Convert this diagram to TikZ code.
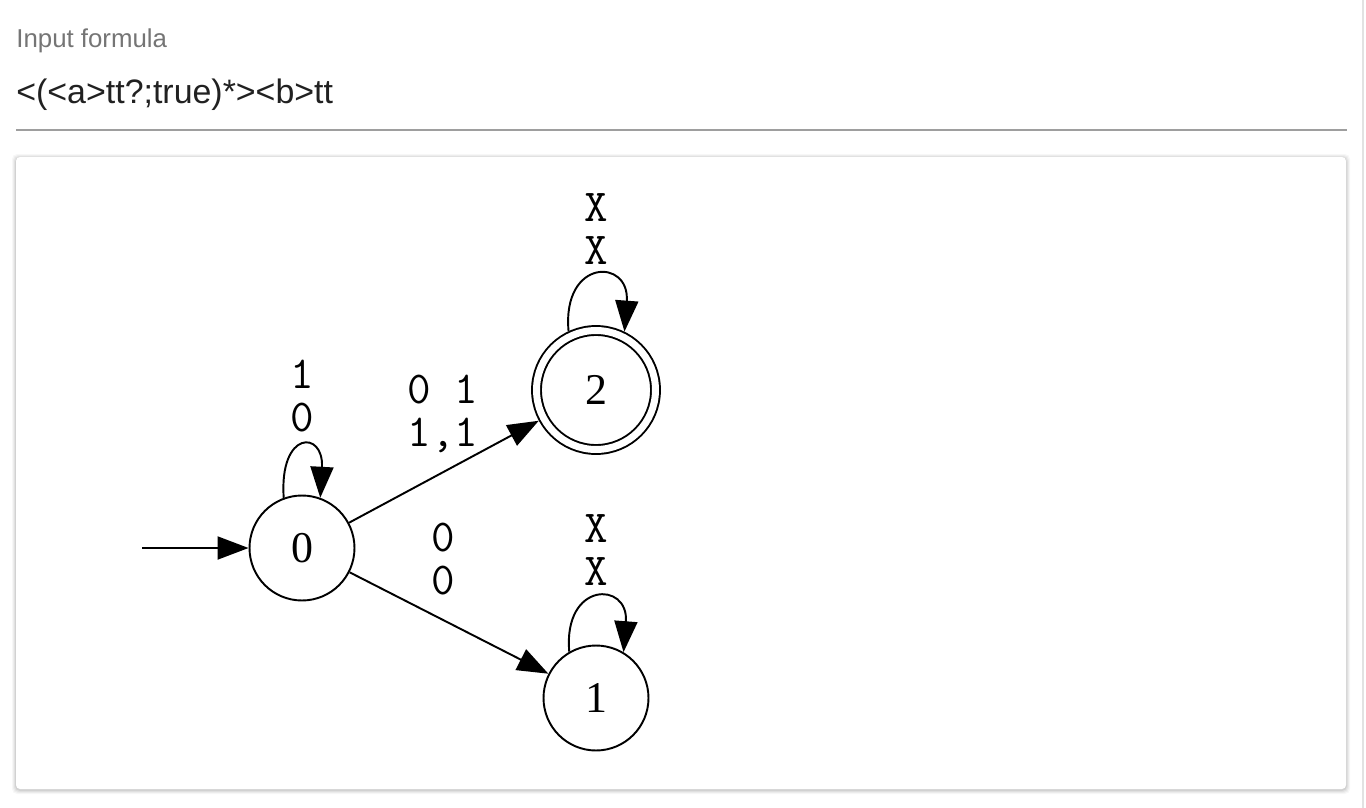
\documentclass[tikz,border=0pt]{standalone}
\usepackage{xcolor}
\usepackage{fontspec}
\setmainfont{Liberation Serif}
\newfontfamily\uifont{Liberation Sans}
\newfontfamily\statefont{Liberation Serif}
\usetikzlibrary{arrows.meta}

\definecolor{hintgray}{HTML}{757575}
\definecolor{inktext}{HTML}{212121}
\definecolor{rulegray}{HTML}{9E9E9E}
\definecolor{framegray}{HTML}{E2E2E2}

\begin{document}
\begin{tikzpicture}[x=0.02cm,y=-0.02cm]
			\tikzstyle{hint} = [anchor=base west, inner sep=0pt, text=hintgray, font=\uifont\fontsize{14.7}{17}\selectfont]
			\tikzstyle{formula} = [anchor=base west, inner sep=0pt, text=inktext, font=\uifont\fontsize{19.3}{22}\selectfont]
			\tikzstyle{st} = [circle, draw, line width=1.1pt, minimum size=2.1cm, inner sep=0pt, font=\statefont\fontsize{25}{28}\selectfont]
			\tikzstyle{acc} = [st, double, double distance=0.14cm, minimum size=2.38cm, outer sep=0.11cm]
			\tikzstyle{trans} = [align=center, inner sep=0pt, font=\ttfamily\fontsize{26}{24.9}\selectfont]
			\tikzset{edge/.style = {line width=1.1pt, -{Triangle[length=0.62cm, width=0.46cm]}}}
			
			\useasboundingbox (0,0) rectangle (1366,808);
			
			% page
			\draw[framegray, line width=1.2pt] (1363,0) -- (1363,808);
			\node[hint](hinttext) at (16,47) {Input formula};
			\node[formula](formulatext) at (16,103) {<(<a>tt?;true)*><b>tt};
			\draw[rulegray, line width=0.9pt] (16,130) -- (1347,130);
			
			% card
			\foreach \g/\o in {4/0.03, 3/0.04, 2/0.05, 1/0.07}
				\fill[black, opacity=\o, rounded corners=0.1cm] (16-\g,157-\g+1) rectangle (1346+\g,789+\g+1);
			\fill[white, rounded corners=0.08cm] (16,157) rectangle (1346,789);
			
			% automaton
			\node[st](s0) at (302,548) {0};
			\node[acc](s2) at (596,390) {2};
			\node[st](s1) at (596,698) {1};
			
			\coordinate (start) at (142,548);
			\draw[edge](start) -- (s0);
			
			\draw[edge](s0) to (s2);
			\draw[edge](s0) to (s1);
			
			\draw[edge](s0.110) .. controls (279,430) and (324,430) .. (s0.70);
			\draw[edge](s2.115) .. controls (562,258) and (630,258) .. (s2.64);
			\draw[edge](s1.120) .. controls (563,581) and (629,581) .. (s1.59);
			
			\node[trans](lab00) at (302,396) {1\\0};
			\node[trans](lab02) at (443,414) {0 1\\1,1};
			\node[trans](lab01) at (443,559) {0\\0};
			\node[trans](lab22) at (596,229) {X\\X};
			\node[trans](lab11) at (596,550) {X\\X};
			
\end{tikzpicture}
\end{document}
